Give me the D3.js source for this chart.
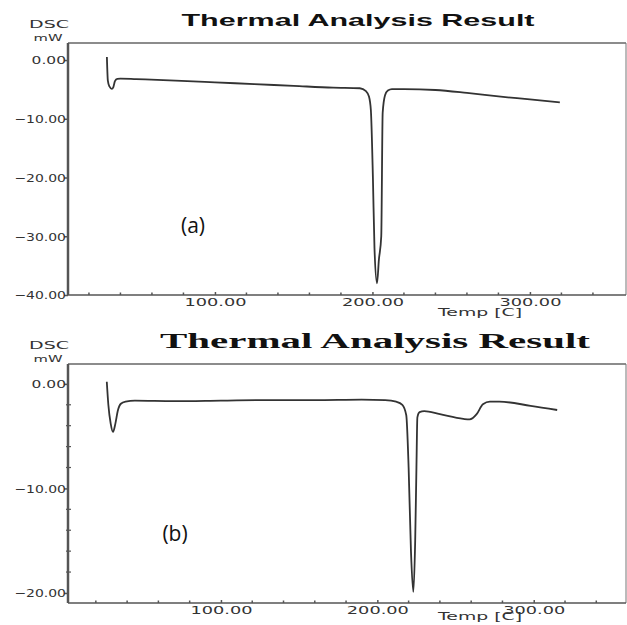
<!DOCTYPE html>
<html>
<head>
<meta charset="utf-8">
<script src="https://cdn.jsdelivr.net/npm/d3@7"></script>
<style>
  body { margin: 0; background: #fff; }
  svg { display: block; }
</style>
</head>
<body>
<svg></svg>
<script>
// 曲线 (a) 的温度和热流
const tempA = [31.4, 32, 33, 34.5, 35.5, 36.5, 38, 40, 50, 75, 100, 125, 150, 175, 192, 195.9, 197.8, 199, 200.3, 201.3, 202.9, 204.1, 205.6, 206.5, 208, 209.8, 212.4, 220, 240, 260, 280, 300, 319];
const dscA = [0.5, -3.5, -4.5, -4.9, -4.6, -3.6, -3.2, -3.15, -3.25, -3.5, -3.8, -4.1, -4.4, -4.7, -4.8, -5.3, -6.2, -8.5, -20, -32, -38, -34, -30, -9, -6.0, -5.2, -4.95, -4.95, -5.1, -5.6, -6.2, -6.7, -7.2];

// 曲线 (b)
const tempB = [27, 28, 29.5, 31, 32.5, 34, 36, 39, 45, 70, 100, 130, 160, 190, 205, 212, 216, 218.5, 220, 221.5, 223, 224.2, 225, 225.6, 227, 230, 240, 255, 259, 263.5, 267.5, 272, 278, 298, 315];
const dscB = [0.2, -2.0, -3.8, -4.6, -3.8, -2.6, -1.9, -1.7, -1.6, -1.65, -1.6, -1.55, -1.55, -1.5, -1.55, -1.7, -2.0, -3.0, -8, -16, -19.9, -15, -8, -3.2, -2.7, -2.6, -2.9, -3.35, -3.4, -2.9, -1.95, -1.7, -1.7, -2.1, -2.5];

// 刻度
const xMajor = [100, 200, 300];
const xMinor = [20, 40, 60, 80, 120, 140, 160, 180, 220, 240, 260, 280, 320, 340];
const yMajorA = [0, -10, -20, -30, -40];
const yMajorB = [0, -10, -20];
const yMinorB = [-2, -4, -6, -8, -12, -14, -16, -18];

const svg = d3.select("svg").attr("width", 627).attr("height", 625);

function drawPanel(opt) {
  const x = d3.scaleLinear().domain(opt.xDomain).range([68, 626]);
  const y = d3.scaleLinear().domain(opt.yDomain).range([opt.bottom, opt.top]);
  const g = svg.append("g");

  // 标题
  g.append("text")
    .attr("x", opt.titleX)
    .attr("y", opt.titleY)
    .attr("text-anchor", "middle")
    .attr("font-family", opt.titleFont)
    .attr("font-weight", "bold")
    .attr("font-size", opt.titleSize)
    .attr("textLength", opt.titleLen)
    .attr("lengthAdjust", "spacingAndGlyphs")
    .attr("fill", "#111")
    .text("Thermal Analysis Result");

  // DSC / mW
  g.append("text").attr("x", 49).attr("y", opt.top - 15)
    .attr("text-anchor", "middle").attr("font-family", "DejaVu Sans")
    .attr("font-size", 10).attr("fill", "#333")
    .attr("textLength", 40).attr("lengthAdjust", "spacingAndGlyphs").text("DSC");
  g.append("text").attr("x", 48).attr("y", opt.top - 2)
    .attr("text-anchor", "middle").attr("font-family", "DejaVu Sans")
    .attr("font-size", 9).attr("fill", "#333")
    .attr("textLength", 29).attr("lengthAdjust", "spacingAndGlyphs").text("mW");

  // 边框
  g.append("line").attr("x1", 68).attr("x2", 626).attr("y1", opt.top).attr("y2", opt.top)
    .attr("stroke", "#666").attr("stroke-width", 1.5);
  g.append("line").attr("x1", 626).attr("x2", 626).attr("y1", opt.top).attr("y2", opt.bottom)
    .attr("stroke", "#777").attr("stroke-width", 1);

  // y轴
  const yAxis = g.append("g")
    .attr("transform", "translate(68,0)")
    .call(d3.axisLeft(y).tickValues(opt.yMajor).tickSize(4).tickFormat(d3.format(".2f")));
  yAxis.select(".domain").attr("stroke", "#555").attr("stroke-width", 2.5)
    .attr("d", `M0,${opt.top}V${opt.bottom}`);
  yAxis.selectAll(".tick line").attr("stroke", "#555").attr("stroke-width", 1.5);
  yAxis.selectAll(".tick text")
    .attr("x", -2).attr("dy", "0.35em")
    .attr("font-family", "DejaVu Sans").attr("font-size", 11).attr("fill", "#333")
    .attr("textLength", (d) => d3.format(".2f")(d).length * 8.6)
    .attr("lengthAdjust", "spacingAndGlyphs");
  g.selectAll(".yminor").data(opt.yMinor).join("line")
    .attr("x1", 66).attr("x2", 71)
    .attr("y1", (d) => y(d)).attr("y2", (d) => y(d))
    .attr("stroke", "#555").attr("stroke-width", 1.2);

  // x轴
  const xAxis = g.append("g")
    .attr("transform", `translate(0,${opt.bottom})`)
    .call(d3.axisBottom(x).tickValues(xMajor).tickSize(-3).tickFormat(d3.format(".2f")));
  xAxis.select(".domain").attr("stroke", "#555").attr("stroke-width", 1.5)
    .attr("d", "M68,0H626");
  xAxis.selectAll(".tick line").attr("stroke", "#555").attr("stroke-width", 1.5);
  xAxis.selectAll(".tick text")
    .attr("y", 3).attr("dy", "0.71em")
    .attr("font-family", "DejaVu Sans").attr("font-size", 11).attr("fill", "#333")
    .attr("textLength", 62).attr("lengthAdjust", "spacingAndGlyphs");
  g.selectAll(".xminor").data(xMinor).join("line")
    .attr("x1", (d) => x(d)).attr("x2", (d) => x(d))
    .attr("y1", opt.bottom).attr("y2", opt.bottom - 2.5)
    .attr("stroke", "#555").attr("stroke-width", 1.5);

  g.append("text")
    .attr("x", 480).attr("y", opt.axisTitleY)
    .attr("text-anchor", "middle").attr("font-family", "DejaVu Sans")
    .attr("font-size", 10).attr("fill", "#333")
    .attr("textLength", 84).attr("lengthAdjust", "spacingAndGlyphs")
    .text("Temp  [C]");

  // 曲线
  const line = d3.line()
    .x((d, i) => x(opt.temp[i]))
    .y((d) => y(d))
    .curve(d3.curveMonotoneX);
  g.append("path")
    .datum(opt.dsc)
    .attr("d", line)
    .attr("fill", "none")
    .attr("stroke", "#333")
    .attr("stroke-width", 1.8)
    .attr("stroke-linejoin", "round");

  // (a)/(b)
  g.append("text")
    .attr("x", opt.tagX).attr("y", opt.tagY)
    .attr("text-anchor", "middle")
    .attr("font-family", "Open Sans")
    .attr("font-size", 21).attr("fill", "#111")
    .text(opt.tag);
}

drawPanel({
  xDomain: [6.7, 361], yDomain: [-40, 2.9], top: 43, bottom: 295,
  yMajor: yMajorA, yMinor: [], temp: tempA, dsc: dscA,
  titleX: 358, titleY: 26, titleFont: "Liberation Sans", titleSize: 17, titleLen: 353,
  tag: "(a)", tagX: 193, tagY: 233, axisTitleY: 316
});

drawPanel({
  xDomain: [2.2, 359], yDomain: [-20.96, 1.9], top: 364, bottom: 603,
  yMajor: yMajorB, yMinor: yMinorB, temp: tempB, dsc: dscB,
  titleX: 375, titleY: 348, titleFont: "Liberation Serif", titleSize: 20, titleLen: 430,
  tag: "(b)", tagX: 175, tagY: 541, axisTitleY: 620
});
</script>
</body>
</html>
